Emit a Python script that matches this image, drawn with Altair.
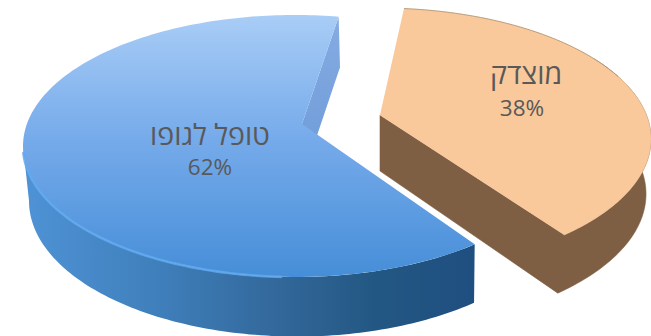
import altair as alt
import numpy as np
import pandas as pd

W, H = 651, 336

# Slices of the pie
labels = ["טופל לגופו", "מוצדק"]
shares = [62, 38]
start_deg = [149.6, 6.2]

# Drawing geometry of each exploded slice
ellipse_cx = [295.0, 379.0]
ellipse_cy = [146.0, 139.0]
apex_x = [302.0, 380.0]
apex_y = [124.0, 115.0]
base_dx = [2.0, -10.0]
base_dr = [-4.0, 5.0]
foreshorten = [0.72, 0.85]
radius_x = 272.0
radius_y = 131.0
base_drop = 55.0
base_extra_ry = 4.5
apex_drop = 56.0

# Label placement
name_x = [210, 526]
name_y = [136, 75]
pct_x = [210, 522]
pct_y = [168, 109]


def warp(i, theta_deg):
    """True pie angle to ellipse parameter under the tilted view."""
    half = np.radians(np.asarray(theta_deg, dtype=float)) / 2
    return np.degrees(np.unwrap(2 * np.arctan2(foreshorten[i] * np.sin(half), np.cos(half))))


def rim(i, angles, base=False):
    t = np.radians(warp(i, angles))
    cx = ellipse_cx[i] + (base_dx[i] if base else 0)
    cy = ellipse_cy[i] + (base_drop if base else 0)
    rx = radius_x + (base_dr[i] if base else 0)
    ry = radius_y + (base_extra_ry if base else 0)
    return list(zip(cx + rx * np.sin(t), cy - ry * np.cos(t)))


def sweep(i):
    a0 = start_deg[i]
    a1 = a0 + shares[i] * 3.6
    return np.linspace(a0, a1, 160)


xs = alt.Scale(domain=[0, W], range=[0, W])
ys = alt.Scale(domain=[0, H], range=[0, H])


def encode_path(mark, pts):
    df = pd.DataFrame(pts, columns=["x", "y"])
    df["i"] = range(len(df))
    return alt.Chart(df).mark_line(**mark).encode(
        x=alt.X("x:Q", scale=xs, axis=None),
        y=alt.Y("y:Q", scale=ys, axis=None),
        order="i:Q",
    )


def polygon(pts, fill, edge=None):
    if isinstance(fill, str):
        return encode_path({"fill": fill, "stroke": edge or fill, "strokeWidth": 0.6}, pts)
    return encode_path({"fill": fill, "strokeWidth": 0, "strokeOpacity": 0}, pts)


def gradient(stops, x1=0, y1=0, x2=0, y2=1):
    return alt.LinearGradient(
        gradient="linear",
        x1=x1, y1=y1, x2=x2, y2=y2,
        stops=[alt.GradientStop(offset=o, color=c) for o, c in stops],
    )


layers = []

# Blue slice: the cut wall, the outer wall, then the top face
blue = sweep(0)
blue_top = rim(0, blue)
blue_base = rim(0, blue, base=True)
apex0 = (apex_x[0], apex_y[0])
apex0_low = (apex_x[0], apex_y[0] + apex_drop)
layers.append(polygon(
    [blue_top[-1], blue_base[-1], apex0_low, apex0],
    gradient([(0, "#86abe3"), (1, "#6b9ad6")]),
))
outer = np.linspace(start_deg[0], 251.6, 120)
layers.append(polygon(
    rim(0, outer, base=True) + rim(0, outer)[::-1],
    gradient(
        [(0, "#1f4f80"), (0.22, "#235783"), (0.45, "#33699c"), (0.7, "#3f7fbb"), (1, "#4f93d6")],
        x1=1, y1=0, x2=0, y2=0,
    ),
))
layers.append(polygon(
    blue_top + [apex0],
    gradient([(0, "#a9cdf6"), (0.45, "#78aceb"), (1, "#468ed8")]),
))
highlight = np.linspace(182, 249, 80)
layers.append(encode_path(
    {"stroke": "#62a9ee", "strokeWidth": 2.6, "opacity": 0.85},
    rim(0, highlight),
))

# Orange slice: the walls, then the top face
orange = sweep(1)
orange_top = rim(1, orange)
orange_base = rim(1, orange, base=True)
apex1 = (apex_x[1], apex_y[1])
apex1_low = (apex_x[1], apex_y[1] + apex_drop)
tail = np.linspace(60, orange[-1], 80)
layers.append(polygon(
    [apex1, apex1_low] + rim(1, tail, base=True)[::-1] + rim(1, tail),
    "#7f5f43",
))
layers.append(polygon(orange_top + [apex1], "#f9c89b"))
layers.append(encode_path(
    {"stroke": "#9c8a6e", "strokeWidth": 1, "opacity": 0.7},
    rim(1, np.linspace(start_deg[1], 70, 60)),
))

# Category names and percentages
name_df = pd.DataFrame({"x": name_x, "y": name_y, "t": labels})
pct_df = pd.DataFrame({"x": pct_x, "y": pct_y, "t": [f"{s}%" for s in shares]})
for df, size in ((name_df, 28.5), (pct_df, 22.5)):
    layers.append(alt.Chart(df).mark_text(
        font="Open Sans", fontSize=size, color="#595959", align="center", baseline="middle",
    ).encode(
        x=alt.X("x:Q", scale=xs, axis=None),
        y=alt.Y("y:Q", scale=ys, axis=None),
        text="t:N",
    ))

chart = alt.layer(*layers).properties(
    width=W, height=H, padding=0, background="white",
    autosize=alt.AutoSizeParams(type="none"),
).configure_view(stroke=None)

chart.save("out.html", embed_options={"renderer": "svg", "actions": False})
